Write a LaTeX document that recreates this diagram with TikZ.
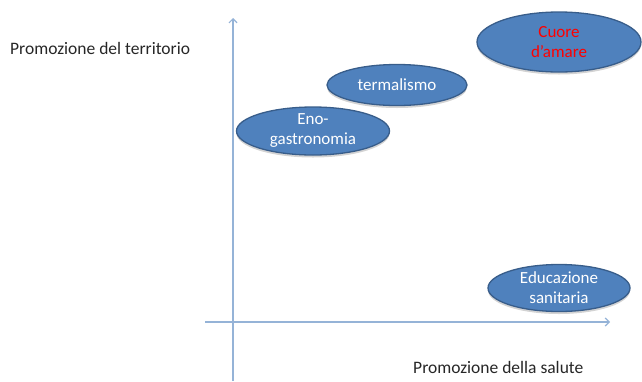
\documentclass[tikz,border=0pt]{standalone}
\usepackage{fontspec}
\setmainfont{Carlito}
\usetikzlibrary{shapes.geometric,arrows.meta,shadows}
\definecolor{bubblefill}{HTML}{4F81BD}
\definecolor{bubbleedge}{HTML}{385D8A}
\definecolor{axiscol}{HTML}{95B3D7}
\definecolor{labelcol}{HTML}{262626}
\tikzset{
  bubble/.style={ellipse, draw=bubbleedge, fill=bubblefill, line width=1.3pt, inner sep=0pt,
    drop shadow={shadow xshift=0pt, shadow yshift=-2.5pt, opacity=0.35}},
  bubbletext/.style={text=white, align=center, font=\fontsize{17}{20}\selectfont, inner sep=0pt},
  axislabel/.style={text=labelcol, font=\fontsize{17.5}{20}\selectfont, inner sep=0pt, anchor=base west},
  axisline/.style={draw=axiscol, line width=2pt, -{Straight Barb[length=4pt,width=8pt,line width=1.2pt]}}
}
\begin{document}
\begin{tikzpicture}[x=1pt,y=-1pt]
\useasboundingbox (0,0) rectangle (642,381);
% axes
\coordinate (vbot) at (233,381);
\coordinate (vtop) at (233,18);
\coordinate (hleft) at (205,322);
\coordinate (hright) at (610,322);
\draw[axisline] (vbot) -- (vtop);
\draw[axisline] (hleft) -- (hright);
% axis labels
\node[axislabel] (ylab) at (10,54) {Promozione del territorio};
\node[axislabel] (xlab) at (413,373) {Promozione della salute};
% bubbles
\node[bubble, minimum width=164pt, minimum height=60pt] (cuore) at (559,42) {};
\node[bubbletext, text=red] (cuoreT) at (cuore.center) {Cuore\\d’amare};
\node[bubble, minimum width=140pt, minimum height=41pt] (terme) at (397,85) {};
\node[bubbletext] (termeT) at (terme.center) {termalismo};
\node[bubble, minimum width=153pt, minimum height=48pt] (eno) at (313,131) {};
\node[bubbletext] (enoT) at (eno.center) {Eno-\\gastronomia};
\node[bubble, minimum width=142pt, minimum height=47pt] (edu) at (559,288) {};
\node[bubbletext] (eduT) at (edu.center) {Educazione\\sanitaria};
\end{tikzpicture}
\end{document}
